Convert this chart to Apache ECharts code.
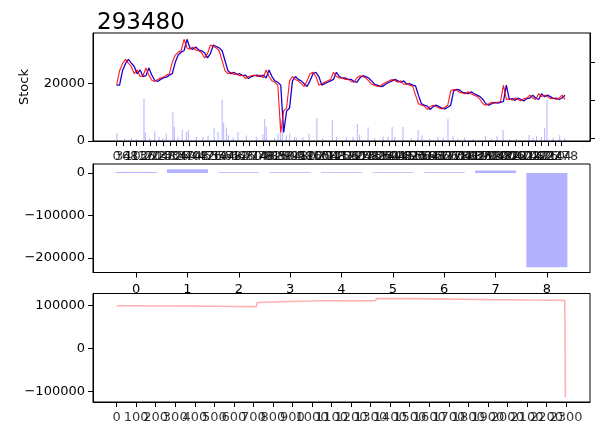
<!DOCTYPE html>
<html><head><meta charset="utf-8">
<script src="https://cdn.jsdelivr.net/npm/echarts@6/dist/echarts.min.js"></script>
<style>html,body{margin:0;padding:0;background:#fff}#c{width:597px;height:428px}</style>
</head><body><div id="c"></div>
<script>
const chartTitle = '293480';
const priceStep = 15;
const closePrice = [19500,24500,27000,28500,27200,26000,23500,24800,22500,22800,
25500,23000,21200,20800,21500,22000,22300,23000,23500,27500,
30000,31000,31500,35500,32500,32000,32800,31800,31500,30800,
29000,30500,33500,33000,32500,31500,28000,24500,23500,24000,
23200,23500,22800,23000,21800,22500,22800,23000,22500,23000,
22000,24800,22500,21000,20500,19500,3000,10500,11500,21000,
22500,21500,21000,20000,19000,21000,23500,24000,22500,19500,
20000,20500,21000,21500,24000,22500,22000,22000,21500,21500,
20800,20500,22000,22800,22500,22000,21000,19800,19500,19000,
19200,20000,20500,21000,21500,21000,20500,21000,19800,20000,
19500,19200,16000,13000,12500,12200,11000,12000,12500,12000,
11500,11200,11800,12500,17500,18000,17800,17000,16800,16500,
17200,16500,16000,15500,14500,13000,12500,13000,13500,13200,
13500,13800,19500,14500,14800,14200,15000,14500,14000,14800,
15000,16000,15000,14500,16500,15500,16000,15500,14800,15000,
14500,15000,16000,14500];
const volumeDay = [2,41,75,101,140,147,169,195,217,237,254,288,295,314,336,357,367,408,442,468,
499,519,540,548,562,572,596,621,664,715,749,758,766,809,826,838,848,869,886,911,
920,954,985,1025,1056,1104,1125,1176,1210,1232,1244,1287,1321,1364,1389,1410,1424,1466,1509,1543,
1563,1603,1645,1671,1696,1722,1748,1782,1825,1888,1918,1947,1978,2012,2046,2111,2132,2149,2174,2191,
2203,2234,2268,2294];
const volumeVal = [2800,900,1100,700,14800,3000,800,3400,1500,1000,2500,10000,5000,1500,3800,3100,3800,1500,1500,2000,
4500,3100,14400,6400,4700,2000,1200,3100,1900,1500,2400,7700,5000,1200,2500,8000,5000,2000,2500,1500,
1200,1300,2500,8000,1000,7200,1500,1300,1500,5900,2200,4800,1000,1500,1500,4900,1500,4900,1000,3800,
2000,800,1500,1200,7700,1700,800,1200,700,1700,900,1700,3800,600,800,2100,1200,1700,1500,4500,
14300,1200,2000,1000];
const topTickValues = Array.from({length: 68}, (_, i) => i * 34);
const barCategories = [0,1,2,3,4,5,6,7,8];
const barValues = [2000,9000,1500,1800,1600,1500,1700,5500,-222000];
const equityDay = [0,100,200,300,400,500,600,715,720,760,800,850,900,950,1000,1040,1100,1200,1325,1330,1400,1500,1600,1700,1800,1900,2000,2100,2200,2294,2297];
const equityVal = [100000,99800,99500,99300,99000,98700,98300,97800,107500,108200,108800,109500,110000,110600,111000,111500,111500,111400,111600,116500,117000,116500,116000,115500,115000,114300,113800,113200,112800,112500,-113000];
const bottomTickValues = Array.from({length: 24}, (_, i) => i * 100);

const FONT = 'DejaVu Sans';
const fmt = v => String(v).replace('-', '\u2212');
function ax(extra) {
  return Object.assign({
    type: 'value',
    axisLine: {show: true, onZero: false, lineStyle: {color: '#000', width: 1}},
    axisTick: {show: true, length: 5, lineStyle: {color: '#000', width: 1}},
    axisLabel: {color: '#000', fontFamily: FONT, fontSize: 13, margin: 8, formatter: fmt,
      hideOverlap: false, showMinLabel: true, showMaxLabel: true},
    splitLine: {show: false}
  }, extra);
}
function ticks(vals, base, noLabel) {
  base.axisTick = Object.assign({}, base.axisTick, {customValues: vals});
  base.axisLabel = Object.assign({}, base.axisLabel, {customValues: vals});
  if (noLabel) base.axisLabel.show = false;
  return base;
}
function tickLabelSeries(xi, yi, vals, yBase) {
  return {
    type: 'scatter', xAxisIndex: xi, yAxisIndex: yi, silent: true, clip: false,
    symbolSize: 0.1, itemStyle: {color: 'rgba(0,0,0,0)'},
    data: vals.map(v => [v, yBase]),
    label: {show: true, position: 'bottom', distance: 9, formatter: p => fmt(p.value[0]),
      color: '#000', fontFamily: FONT, fontSize: 13},
    labelLayout: {hideOverlap: false}, z: 5
  };
}

const closeData = closePrice.map((v, i) => [i * priceStep, v]);
// open = previous close
const openData = closePrice.map((v, i) => [i * priceStep, i > 0 ? closePrice[i - 1] : v]);

const gridBox = {show: true, borderColor: '#000', borderWidth: 1, backgroundColor: 'transparent', left: 93, width: 497};
const option = {
  animation: false,
  backgroundColor: '#fff',
  title: {text: chartTitle, left: 92, top: 7, textStyle: {fontFamily: FONT, fontSize: 23, fontWeight: 'normal', color: '#000'}},
  grid: [
    Object.assign({top: 33, height: 108}, gridBox),
    Object.assign({top: 164, height: 108.5}, gridBox),
    Object.assign({top: 293.5, height: 108.5}, gridBox)
  ],
  xAxis: [
    ticks(topTickValues, ax({gridIndex: 0, min: -121, max: 2423}), true),
    (function(){ const a = ticks(barCategories, ax({gridIndex: 1, min: -0.84, max: 8.84})); a.axisLabel.margin = 11; return a; })(),
    ticks(bottomTickValues, ax({gridIndex: 2, min: -121, max: 2423}), true)
  ],
  yAxis: [
    ticks([0, 20000], ax({gridIndex: 0, min: 0, max: 37700, name: 'Stock', nameLocation: 'middle', nameRotate: 90, nameGap: 62,
      nameTextStyle: {fontFamily: FONT, fontSize: 13, color: '#000'}})),
    (function(){ const a = ticks([0, 38, 76], ax({gridIndex: 0, position: 'right', min: -3, max: 105})); a.axisLabel.show = false; return a; })(),
    ticks([-200000, -100000, 0], ax({gridIndex: 1, min: -234600, max: 21100})),
    ticks([-100000, 0, 100000], ax({gridIndex: 2, min: -124500, max: 128500}))
  ],
  series: [
    {type: 'bar', xAxisIndex: 0, yAxisIndex: 0, barWidth: 1, data: volumeDay.map((d, i) => [d, volumeVal[i]]),
      itemStyle: {color: 'rgba(0,0,255,0.3)'}, z: 1},
    {type: 'line', xAxisIndex: 0, yAxisIndex: 0, data: openData, showSymbol: false, symbol: 'none',
      lineStyle: {color: '#1a00d0', width: 1.3}, z: 2},
    {type: 'line', xAxisIndex: 0, yAxisIndex: 0, data: closeData, showSymbol: false, symbol: 'none',
      lineStyle: {color: '#ff0000', width: 1.1, opacity: 0.9}, z: 3},
    {type: 'bar', xAxisIndex: 1, yAxisIndex: 2, barWidth: 41, data: barCategories.map((c, i) => [c, barValues[i]]),
      itemStyle: {color: 'rgba(0,0,255,0.3)'}},
    {type: 'line', xAxisIndex: 2, yAxisIndex: 3, data: equityDay.map((d, i) => [d, equityVal[i]]), showSymbol: false, symbol: 'none',
      lineStyle: {color: 'rgba(255,0,0,0.3)', width: 1.6}},
    tickLabelSeries(0, 0, topTickValues, 0),
    tickLabelSeries(2, 3, bottomTickValues, -124500)
  ]
};
const chart = echarts.init(document.getElementById('c'), null, {renderer: 'canvas'});
chart.setOption(option);
</script></body></html>
